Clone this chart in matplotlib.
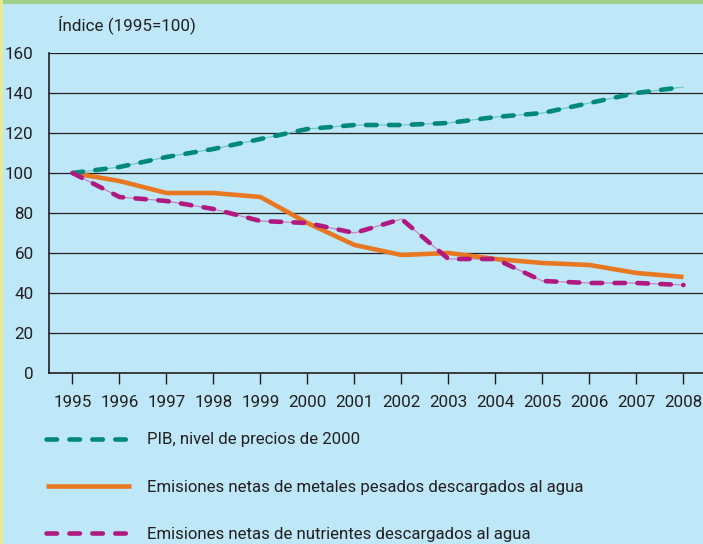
import matplotlib
matplotlib.use("Agg")
import matplotlib.pyplot as plt
from matplotlib.patches import Rectangle
from matplotlib import font_manager as fm

years = [1995, 1996, 1997, 1998, 1999, 2000, 2001, 2002, 2003, 2004, 2005, 2006, 2007, 2008]
pib = [100, 103, 108, 112, 117, 122, 124, 124, 125, 128, 130, 135, 140, 143]
metales = [100, 96, 90, 90, 88, 75, 64, 59, 60, 57, 55, 54, 50, 48]
nutrientes = [100, 88, 86, 82, 76, 75, 70, 77, 57, 57, 46, 45, 45, 44]
labels = ["PIB, nivel de precios de 2000",
          "Emisiones netas de metales pesados descargados al agua",
          "Emisiones netas de nutrientes descargados al agua"]
yticks = [0, 20, 40, 60, 80, 100, 120, 140, 160]

BG = "#BEE7F8"
TXT = "#231F20"
TEAL = "#00897B"
ORANGE = "#E87722"
MAGENTA = "#B01A80"

family = None
for cand in ['Liberation Sans Narrow', 'Roboto', 'Open Sans']:
    try:
        fm.findfont(fm.FontProperties(family=cand), fallback_to_default=False)
        family = cand
        break
    except Exception:
        continue
if family is None:
    family = 'DejaVu Sans'
plt.rcParams['font.family'] = [family, 'DejaVu Sans']

fig = plt.figure(figsize=(7.03, 5.44), dpi=100, facecolor=BG)
renderer = fig.canvas.get_renderer()


def fit_size(s, target_px, ref=12.0):
    t = fig.text(0, 0, s, fontsize=ref)
    w = t.get_window_extent(renderer).width
    t.remove()
    return ref * target_px / w


FS_LEG = min(fit_size(labels[1], 434), 15.5)
FS_TICK = min(fit_size("1995", 38), 15.0)

fig.patches.append(Rectangle((0, 1 - 4/544), 1, 4/544, transform=fig.transFigure,
                             facecolor="#9FD18B", edgecolor="none", zorder=5))
fig.patches.append(Rectangle((0, 0), 3/703, 1, transform=fig.transFigure,
                             facecolor="#E8EB92", edgecolor="none", zorder=5))

ax = fig.add_axes([49/703, 1 - 373/544, 1 - 49/703, 320/544])
ax.set_facecolor(BG)
ax.set_xlim(1994.5, 2008.415)
ax.set_ylim(0, 160)

for y in yticks[1:]:
    ax.axhline(y, color=TXT, lw=0.9, zorder=1)

lw = 3.3
ax.plot(years, pib, color="#6FC3C0", lw=0.8, zorder=2)
ax.plot(years, nutrientes, color="#C97BB6", lw=0.8, zorder=2)
l1, = ax.plot(years, pib, color=TEAL, lw=lw, dashes=(2.3, 2.7),
              dash_capstyle='round', label=labels[0], zorder=4)
l2, = ax.plot(years, metales, color=ORANGE, lw=lw, solid_capstyle='butt',
              label=labels[1], zorder=3)
l3, = ax.plot(years, nutrientes, color=MAGENTA, lw=lw, dashes=(2.3, 2.7),
              dash_capstyle='round', label=labels[2], zorder=4)

for s in ['top', 'right']:
    ax.spines[s].set_visible(False)
for s in ['left', 'bottom']:
    ax.spines[s].set_color(TXT)
    ax.spines[s].set_linewidth(1.2)

ax.set_xticks(years)
ax.set_xticklabels([str(y) for y in years])
ax.set_yticks(yticks)
ax.tick_params(axis='x', direction='out', length=8, width=1, color=TXT,
               labelsize=FS_TICK, labelcolor=TXT, pad=8)
ax.tick_params(axis='y', length=0, labelsize=FS_TICK, labelcolor=TXT, pad=11)

fig.text(58/703, 1 - 25/544, "Índice (1995=100)", fontsize=FS_TICK, color=TXT,
         ha='left', va='center')

fs_px = FS_LEG * 100 / 72
leg = fig.legend(handles=[l1, l2, l3], loc='upper left',
                 bbox_to_anchor=(46/703, 1 - (445 - 0.75 * fs_px)/544), frameon=False,
                 fontsize=FS_LEG, handlelength=85/fs_px, handletextpad=16/fs_px,
                 labelspacing=49/fs_px - 1, borderaxespad=0, borderpad=0)
for t in leg.get_texts():
    t.set_color(TXT)

fig.savefig("out.png", dpi=100, facecolor=BG)
